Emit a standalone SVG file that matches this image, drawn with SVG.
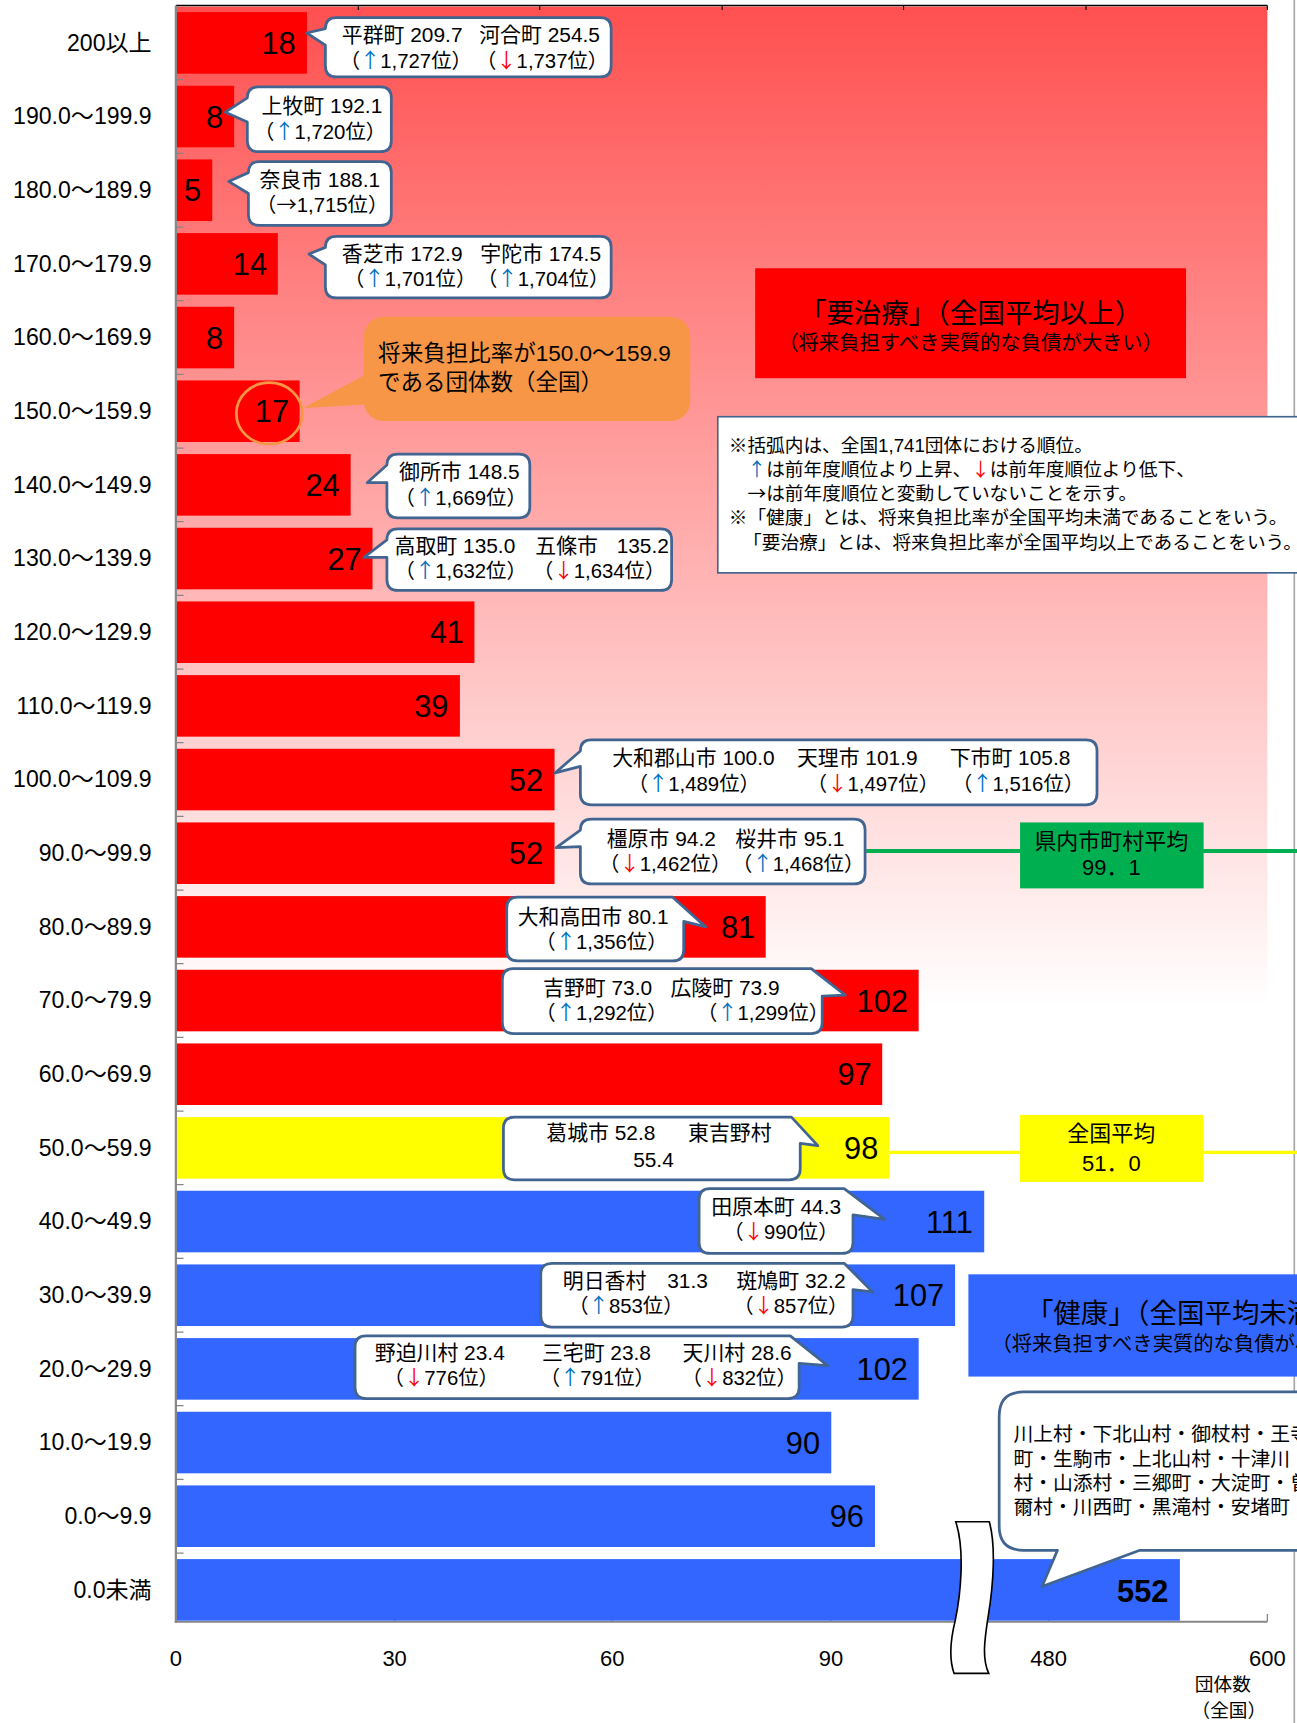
<svg xmlns="http://www.w3.org/2000/svg" width="1297" height="1723" viewBox="0 0 1297 1723">
<defs>
<linearGradient id="bg" x1="0" y1="0" x2="0" y2="1"><stop offset="0" stop-color="#FF5050"/><stop offset="1" stop-color="#FFFFFF"/></linearGradient>
<style>
text{font-family:'Liberation Sans','Noto Sans CJK JP',sans-serif;fill:#000}
.lbl{font-size:21px;text-anchor:end}
.val{font-size:28px;text-anchor:end}
.co{font-size:19px}
.co2{font-size:18.5px}
.nt{font-size:17px}
.ax{font-size:20px;text-anchor:middle}
.mid{text-anchor:middle}
.up,.dn,.ar{font-family:'Noto Sans CJK JP',sans-serif}
.up{fill:#0070C0}
.dn{fill:#FF0000}
.call{fill:#FFFFFF;stroke:#416491;stroke-width:2.5;stroke-linejoin:round}
.red{fill:#FF0000}.yel{fill:#FFFF00}.blu{fill:#3366FF}
</style>
</defs>
<rect width="1297" height="1723" fill="#FFFFFF"/>
<g transform="scale(1.0992,1.0995)">
<g id="plot-background">
<rect x="161" y="6" width="992" height="910" fill="url(#bg)"/>
</g>
<g id="axes">
<line x1="160" y1="5" x2="1153" y2="5" stroke="#000" stroke-width="1.5"/>
<path d="M326,5V9M491,5V9M657,5V9M822,5V9M988,5V9M1153,5V9" stroke="#000" stroke-width="1"/>
<line x1="160" y1="5" x2="160" y2="1476" stroke="#868686" stroke-width="2"/>
<line x1="159" y1="1475" x2="1153" y2="1475" stroke="#868686" stroke-width="2"/>
<path d="M160,72.5h7M160,139.5h7M160,206.5h7M160,273.5h7M160,340.5h7M160,407.5h7M160,474.5h7M160,541.5h7M160,608.5h7M160,675.5h7M160,742.5h7M160,809.5h7M160,876.5h7M160,943.5h7M160,1010.5h7M160,1077.5h7M160,1144.5h7M160,1211.5h7M160,1278.5h7M160,1345.5h7M160,1412.5h7" stroke="#868686" stroke-width="1.2"/>
<path d="M359,1475v-7M557,1475v-7M756,1475v-7M954,1475v-7M1153,1475v-7" stroke="#868686" stroke-width="1.2"/>
<line x1="1177.5" y1="0" x2="1177.5" y2="1567" stroke="#A6A6A6" stroke-width="1.5"/>
<text class="ax" x="160" y="1515">0</text>
<text class="ax" x="359" y="1515">30</text>
<text class="ax" x="557" y="1515">60</text>
<text class="ax" x="756" y="1515">90</text>
<text class="ax" x="954" y="1515">480</text>
<text class="ax" x="1153" y="1515">600</text>
<text class="nt" x="1087" y="1538">団体数</text>
<text class="nt" x="1084" y="1562">（全国）</text>
</g>
<g id="row-labels">
<text class="lbl" x="138" y="46">200以上</text>
<text class="lbl" x="138" y="113">190.0～199.9</text>
<text class="lbl" x="138" y="180">180.0～189.9</text>
<text class="lbl" x="138" y="247">170.0～179.9</text>
<text class="lbl" x="138" y="314">160.0～169.9</text>
<text class="lbl" x="138" y="381">150.0～159.9</text>
<text class="lbl" x="138" y="448">140.0～149.9</text>
<text class="lbl" x="138" y="515">130.0～139.9</text>
<text class="lbl" x="138" y="582">120.0～129.9</text>
<text class="lbl" x="138" y="649">110.0～119.9</text>
<text class="lbl" x="138" y="716">100.0～109.9</text>
<text class="lbl" x="138" y="783">90.0～99.9</text>
<text class="lbl" x="138" y="850">80.0～89.9</text>
<text class="lbl" x="138" y="917">70.0～79.9</text>
<text class="lbl" x="138" y="984">60.0～69.9</text>
<text class="lbl" x="138" y="1051">50.0～59.9</text>
<text class="lbl" x="138" y="1118">40.0～49.9</text>
<text class="lbl" x="138" y="1185">30.0～39.9</text>
<text class="lbl" x="138" y="1252">20.0～29.9</text>
<text class="lbl" x="138" y="1319">10.0～19.9</text>
<text class="lbl" x="138" y="1386">0.0～9.9</text>
<text class="lbl" x="138" y="1453">0.0未満</text>
</g>
<g id="bars">
<rect class="red" x="161" y="11" width="118.25" height="56"/>
<rect class="red" x="161" y="78" width="52" height="56"/>
<rect class="red" x="161" y="145" width="32.1" height="56"/>
<rect class="red" x="161" y="212" width="91.75" height="56"/>
<rect class="red" x="161" y="279" width="52" height="56"/>
<rect class="red" x="161" y="346" width="111.6" height="56"/>
<rect class="red" x="161" y="413" width="158" height="56"/>
<rect class="red" x="161" y="480" width="177.9" height="56"/>
<rect class="red" x="161" y="547" width="270.6" height="56"/>
<rect class="red" x="161" y="614" width="257.4" height="56"/>
<rect class="red" x="161" y="681" width="343.5" height="56"/>
<rect class="red" x="161" y="748" width="343.5" height="56"/>
<rect class="red" x="161" y="815" width="535.6" height="56"/>
<rect class="red" x="161" y="882" width="674.75" height="56"/>
<rect class="red" x="161" y="949" width="641.6" height="56"/>
<rect class="yel" x="161" y="1016" width="648.25" height="56"/>
<rect class="blu" x="161" y="1083" width="734.4" height="56"/>
<rect class="blu" x="161" y="1150" width="707.9" height="56"/>
<rect class="blu" x="161" y="1217" width="674.75" height="56"/>
<rect class="blu" x="161" y="1284" width="595.25" height="56"/>
<rect class="blu" x="161" y="1351" width="635" height="56"/>
<rect class="blu" x="161" y="1418" width="912.4" height="56"/>
</g>
<g id="bar-values">
<text class="val" x="269" y="49">18</text>
<text class="val" x="203" y="116">8</text>
<text class="val" x="183" y="183">5</text>
<text class="val" x="243" y="250">14</text>
<text class="val" x="203" y="317">8</text>
<text class="val" x="263" y="384">17</text>
<text class="val" x="309" y="451">24</text>
<text class="val" x="329" y="518">27</text>
<text class="val" x="422" y="585">41</text>
<text class="val" x="408" y="652">39</text>
<text class="val" x="494" y="719">52</text>
<text class="val" x="494" y="786">52</text>
<text class="val" x="687" y="853">81</text>
<text class="val" x="826" y="920">102</text>
<text class="val" x="793" y="987">97</text>
<text class="val" x="799" y="1054">98</text>
<text class="val" x="885" y="1121">111</text>
<text class="val" x="859" y="1188">107</text>
<text class="val" x="826" y="1255">102</text>
<text class="val" x="746" y="1322">90</text>
<text class="val" x="786" y="1389">96</text>
<text class="val" x="1063" y="1457" font-weight="bold">552</text>
</g>
<g id="connectors">
<line x1="788" y1="774" x2="1180" y2="774" stroke="#00B050" stroke-width="3.5"/>
<line x1="809" y1="1048" x2="1180" y2="1048" stroke="#FFFF00" stroke-width="3"/>
<path d="M332,341 L276,371 L332,368 Z" fill="#F79646"/>
</g>
<g id="label-youchiryou">
<rect x="687" y="244" width="392" height="100" fill="#FF0000"/>
<text class="mid" x="883" y="294" font-size="25">「要治療」（全国平均以上）</text>
<text class="mid" x="883" y="318" font-size="18.5">（将来負担すべき実質的な負債が大きい）</text>
</g>
<g id="label-kenkou">
<rect x="881" y="1159" width="392" height="93" fill="#3366FF"/>
<text class="mid" x="1077" y="1203" font-size="25">「健康」（全国平均未満）</text>
<text class="mid" x="1077" y="1229" font-size="18.5">（将来負担すべき実質的な負債が小さい）</text>
</g>
<g id="avg-prefecture">
<rect x="928" y="748" width="167" height="60" fill="#00B050"/>
<text class="mid" x="1011" y="772" font-size="20">県内市町村平均</text>
<text class="mid" x="1011" y="796" font-size="20">99．1</text>
</g>
<g id="avg-national">
<rect x="928" y="1014" width="167" height="61" fill="#FFFF00"/>
<text class="mid" x="1011" y="1038" font-size="20">全国平均</text>
<text class="mid" x="1011" y="1065" font-size="20">51．0</text>
</g>
<g id="note">
<rect x="653" y="379" width="560" height="142" fill="#FFFFFF" stroke="#416491" stroke-width="1.5"/>
<text class="nt" x="663" y="411">※括弧内は、全国1,741団体における順位。</text>
<text class="nt" x="680" y="433"><tspan class="up">↑</tspan>は前年度順位より上昇、<tspan class="dn">↓</tspan>は前年度順位より低下、</text>
<text class="nt" x="680" y="455"><tspan class="ar">→</tspan>は前年度順位と変動していないことを示す。</text>
<text class="nt" x="663" y="477">※「健康」とは、将来負担比率が全国平均未満であることをいう。</text>
<text class="nt" x="676" y="499">「要治療」とは、将来負担比率が全国平均以上であることをいう。</text>
</g>
<g id="highlight-150">
<ellipse cx="245" cy="376" rx="30" ry="28" fill="none" stroke="#F79646" stroke-width="2.5"/>
<rect x="331" y="288" width="297" height="95" rx="18" fill="#F79646"/>
<text x="344" y="328" font-size="20.5">将来負担比率が150.0～159.9</text>
<text x="344" y="355" font-size="20.5">である団体数（全国）</text>
</g>
<g id="callout-200">
<path class="call" d="M306,16 H546 Q556,16 556,26 V60 Q556,70 546,70 H306 Q296,70 296,60 V41 L279,30 L296,26 Q296,16 306,16 Z"/>
<text class="co" x="311" y="38">平群町 209.7</text>
<text class="co" x="436" y="38">河合町 254.5</text>
<text class="co2" x="309" y="62">（<tspan class="up">↑</tspan>1,727位）</text>
<text class="co2" x="433" y="62">（<tspan class="dn">↓</tspan>1,737位）</text>
</g>
<g id="callout-190">
<path class="call" d="M235,79 H346 Q356,79 356,89 V128 Q356,138 346,138 H235 Q225,138 225,128 V111 L205,102 L225,89 Q225,79 235,79 Z"/>
<text class="co" x="238" y="103">上牧町 192.1</text>
<text class="co2" x="231" y="126">（<tspan class="up">↑</tspan>1,720位）</text>
</g>
<g id="callout-180">
<path class="call" d="M236,147 H346 Q356,147 356,157 V195 Q356,205 346,205 H236 Q226,205 226,195 V176 L208,165 L226,157 Q226,147 236,147 Z"/>
<text class="co" x="236" y="170">奈良市 188.1</text>
<text class="co2" x="233" y="193">（<tspan class="ar">→</tspan>1,715位）</text>
</g>
<g id="callout-170">
<path class="call" d="M306,215 H546 Q556,215 556,225 V261 Q556,271 546,271 H306 Q296,271 296,261 V241 L281,231 L296,225 Q296,215 306,215 Z"/>
<text class="co" x="311" y="237">香芝市 172.9</text>
<text class="co" x="437" y="237">宇陀市 174.5</text>
<text class="co2" x="313" y="260">（<tspan class="up">↑</tspan>1,701位）</text>
<text class="co2" x="434" y="260">（<tspan class="up">↑</tspan>1,704位）</text>
</g>
<g id="callout-140">
<path class="call" d="M362,413 H472 Q482,413 482,423 V461 Q482,471 472,471 H362 Q352,471 352,461 V439 L334,439 L352,423 Q352,413 362,413 Z"/>
<text class="co" x="363" y="436">御所市 148.5</text>
<text class="co2" x="359" y="459">（<tspan class="up">↑</tspan>1,669位）</text>
</g>
<g id="callout-130">
<path class="call" d="M362,481 H601 Q611,481 611,491 V527 Q611,537 601,537 H362 Q352,537 352,527 V507 L331,507 L352,491 Q352,481 362,481 Z"/>
<text class="co" x="359" y="503">高取町 135.0</text>
<text class="co" x="487" y="503">五條市</text>
<text class="co" x="561" y="503">135.2</text>
<text class="co2" x="359" y="526">（<tspan class="up">↑</tspan>1,632位）</text>
<text class="co2" x="485" y="526">（<tspan class="dn">↓</tspan>1,634位）</text>
</g>
<g id="callout-100">
<path class="call" d="M538,673 H988 Q998,673 998,683 V722 Q998,732 988,732 H538 Q528,732 528,722 V697 L505,703 L528,683 Q528,673 538,673 Z"/>
<text class="co" x="557" y="696">大和郡山市 100.0</text>
<text class="co" x="725" y="696">天理市 101.9</text>
<text class="co" x="864" y="696">下市町 105.8</text>
<text class="co2" x="571" y="719">（<tspan class="up">↑</tspan>1,489位）</text>
<text class="co2" x="734" y="719">（<tspan class="dn">↓</tspan>1,497位）</text>
<text class="co2" x="866" y="719">（<tspan class="up">↑</tspan>1,516位）</text>
</g>
<g id="callout-90">
<path class="call" d="M538,745 H777 Q787,745 787,755 V794 Q787,804 777,804 H538 Q528,804 528,794 V770 L506,771 L528,755 Q528,745 538,745 Z"/>
<text class="co" x="552" y="769">橿原市 94.2</text>
<text class="co" x="669" y="769">桜井市 95.1</text>
<text class="co2" x="545" y="792">（<tspan class="dn">↓</tspan>1,462位）</text>
<text class="co2" x="666" y="792">（<tspan class="up">↑</tspan>1,468位）</text>
</g>
<g id="callout-80">
<path class="call" d="M471,816 H612 L642,843 L622,838 V864 Q622,874 612,874 H471 Q461,874 461,864 V826 Q461,816 471,816 Z"/>
<text class="co" x="471" y="840">大和高田市 80.1</text>
<text class="co2" x="487" y="863">（<tspan class="up">↑</tspan>1,356位）</text>
</g>
<g id="callout-70">
<path class="call" d="M467,881 H738 L769,905 L748,906 V930 Q748,940 738,940 H467 Q457,940 457,930 V891 Q457,881 467,881 Z"/>
<text class="co" x="494" y="905">吉野町 73.0</text>
<text class="co" x="610" y="905">広陵町 73.9</text>
<text class="co2" x="487" y="928">（<tspan class="up">↑</tspan>1,292位）</text>
<text class="co2" x="634" y="928">（<tspan class="up">↑</tspan>1,299位）</text>
</g>
<g id="callout-50">
<path class="call" d="M468,1016 H720 L744,1042 L728,1040 V1063 Q728,1073 718,1073 H468 Q458,1073 458,1063 V1026 Q458,1016 468,1016 Z"/>
<text class="co" x="497" y="1037">葛城市 52.8</text>
<text class="co" x="626" y="1037">東吉野村</text>
<text class="co" x="576" y="1061">55.4</text>
</g>
<g id="callout-40">
<path class="call" d="M646,1081 H768 L805,1109 L776,1105 V1130 Q776,1140 766,1140 H646 Q636,1140 636,1130 V1091 Q636,1081 646,1081 Z"/>
<text class="co" x="647" y="1104">田原本町 44.3</text>
<text class="co2" x="658" y="1127">（<tspan class="dn">↓</tspan>990位）</text>
</g>
<g id="callout-30">
<path class="call" d="M502,1149 H768 L794,1175 L776,1173 V1197 Q776,1207 766,1207 H502 Q492,1207 492,1197 V1159 Q492,1149 502,1149 Z"/>
<text class="co" x="512" y="1171">明日香村</text>
<text class="co" x="607" y="1171">31.3</text>
<text class="co" x="670" y="1171">斑鳩町 32.2</text>
<text class="co2" x="517" y="1194">（<tspan class="up">↑</tspan>853位）</text>
<text class="co2" x="667" y="1194">（<tspan class="dn">↓</tspan>857位）</text>
</g>
<g id="callout-20">
<path class="call" d="M333,1215 H719 L753,1242 L727,1240 V1262 Q727,1272 717,1272 H333 Q323,1272 323,1262 V1225 Q323,1215 333,1215 Z"/>
<text class="co" x="341" y="1237">野迫川村 23.4</text>
<text class="co" x="493" y="1237">三宅町 23.8</text>
<text class="co" x="621" y="1237">天川村 28.6</text>
<text class="co2" x="349" y="1260">（<tspan class="dn">↓</tspan>776位）</text>
<text class="co2" x="491" y="1260">（<tspan class="up">↑</tspan>791位）</text>
<text class="co2" x="620" y="1260">（<tspan class="dn">↓</tspan>832位）</text>
</g>
<g id="callout-below0">
<path class="call" d="M931,1266 H1200 V1410 H1037 L948,1443 L962,1410 H931 Q909,1410 909,1388 V1288 Q909,1266 931,1266 Z"/>
<text font-size="18" x="922" y="1311">川上村・下北山村・御杖村・王寺</text>
<text font-size="18" x="922" y="1333">町・生駒市・上北山村・十津川</text>
<text font-size="18" x="922" y="1355">村・山添村・三郷町・大淀町・曽</text>
<text font-size="18" x="922" y="1377">爾村・川西町・黒滝村・安堵町</text>
</g>
<g id="axis-break">
<path d="M869.5,1384 L900,1384 C906,1405 904,1440 899,1470 C896,1490 893,1508 899.5,1522 L868,1522 C863,1508 865,1490 869,1474 C874,1450 878,1410 869.5,1384 Z" fill="#FFFFFF" stroke="#000" stroke-width="1.5"/>
</g>
</g>
</svg>
